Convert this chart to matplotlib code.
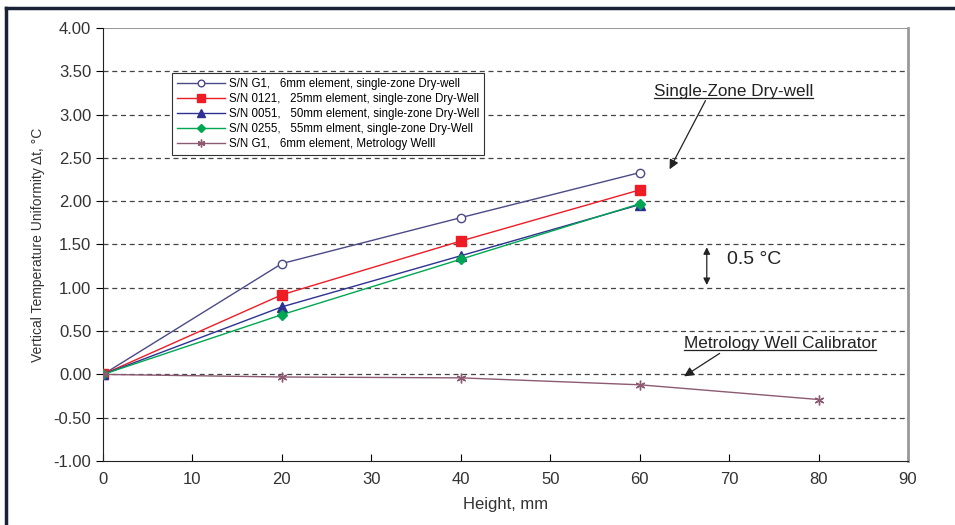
import matplotlib
matplotlib.use("Agg")
import matplotlib.pyplot as plt
from matplotlib.lines import Line2D

plt.rcParams['font.family'] = ['Liberation Sans', 'DejaVu Sans']

heights = [0, 20, 40, 60]
heights_mw = [0, 20, 40, 60, 80]
g1_dry = [0.0, 1.28, 1.81, 2.33]
sn0121 = [0.0, 0.92, 1.54, 2.13]
sn0051 = [0.0, 0.78, 1.37, 1.96]
sn0255 = [0.0, 0.69, 1.33, 1.97]
g1_metro = [0.0, -0.03, -0.04, -0.12, -0.29]

labels = [
    "S/N G1,   6mm element, single-zone Dry-well",
    "S/N 0121,   25mm element, single-zone Dry-Well",
    "S/N 0051,   50mm element, single-zone Dry-Well",
    "S/N 0255,   55mm elment, single-zone Dry-Well",
    "S/N G1,   6mm element, Metrology Welll",
]
yticks = [-1.0, -0.5, 0.0, 0.5, 1.0, 1.5, 2.0, 2.5, 3.0, 3.5, 4.0]
xticks = [0, 10, 20, 30, 40, 50, 60, 70, 80, 90]

fig = plt.figure(figsize=(9.55, 5.25), dpi=100)
ax = fig.add_axes([0.1079, 0.1219, 0.8429, 0.8248])

for y in yticks[1:-1]:
    ax.axhline(y, color='#444444', lw=0.9, ls=(0, (4, 3)), zorder=1)
ax.axhline(4.0, color='#999999', lw=1.5, zorder=1)

ax.plot(heights, g1_dry, color='#4a4a86', lw=1.0, marker='o', ms=6,
        mfc='white', mec='#4a4a86', mew=1.0, label=labels[0], zorder=3)
ax.plot(heights, sn0121, color='#ee1c25', lw=1.0, marker='s', ms=7,
        mfc='#ee1c25', mec='#ee1c25', label=labels[1], zorder=3)
ax.plot(heights, sn0051, color='#2e3192', lw=1.0, marker='^', ms=7,
        mfc='#2e3192', mec='#2e3192', label=labels[2], zorder=3)
ax.plot(heights, sn0255, color='#00a651', lw=1.0, marker='D', ms=5,
        mfc='#00a651', mec='#00a651', label=labels[3], zorder=3)
ax.plot(heights_mw, g1_metro, color='#8c5a72', lw=1.0, marker=(6, 2, 0), ms=7,
        mec='#8c5a72', mew=1.0, label=labels[4], zorder=3)

ax.set_xlim(0, 90)
ax.set_ylim(-1.0, 4.0)
ax.set_xticks(xticks)
ax.set_yticks(yticks)
ax.set_yticklabels([f"{v:.2f}" for v in yticks])
ax.tick_params(axis='x', direction='in', length=5, labelsize=12, pad=8)
ax.tick_params(axis='y', direction='out', length=5, labelsize=12)
for lab in ax.get_xticklabels() + ax.get_yticklabels():
    lab.set_color('#333333')

ax.spines['top'].set_visible(False)
ax.spines['right'].set_color('#999999')
ax.spines['right'].set_linewidth(2.0)
ax.spines['left'].set_color('#222222')
ax.spines['bottom'].set_color('#222222')

ax.set_xlabel("Height, mm", fontsize=12, color='#333333', labelpad=7)
ax.set_ylabel("Vertical Temperature Uniformity \u0394t, \u00b0C", fontsize=10, color='#333333', labelpad=6)

leg = ax.legend(loc='upper left', bbox_to_anchor=(0.0857, 0.896), borderaxespad=0,
                fontsize=8.3, frameon=True, fancybox=False, edgecolor='#333333', framealpha=1,
                handlelength=4.2, borderpad=0.4, labelspacing=0.27, handletextpad=0.3,
                markerscale=0.8)
leg.get_frame().set_linewidth(0.8)

# annotations
ax.annotate("", xy=(63.2, 2.34), xytext=(67.5, 3.19),
            arrowprops=dict(arrowstyle='-|>', color='#222222', lw=0.9, mutation_scale=14))
t1 = ax.text(70.5, 3.27, "Single-Zone Dry-well", fontsize=12.3, color='#222222',
             ha='center', va='center')
ax.annotate("", xy=(64.7, -0.04), xytext=(69.2, 0.26),
             arrowprops=dict(arrowstyle='-|>', color='#222222', lw=0.9, mutation_scale=14))
t2 = ax.text(75.7, 0.36, "Metrology Well Calibrator", fontsize=12.3, color='#222222',
             ha='center', va='center')
ax.annotate("", xy=(67.5, 1.0), xytext=(67.5, 1.5),
            arrowprops=dict(arrowstyle='<|-|>', color='#222222', lw=0.9, mutation_scale=10))
ax.text(69.8, 1.33, "0.5 \u00b0C", fontsize=14, color='#222222', ha='left', va='center')

# underline texts
fig.canvas.draw()
r = fig.canvas.get_renderer()
inv = fig.transFigure.inverted()
for t in (t1, t2):
    bb = t.get_window_extent(renderer=r)
    (x0, y0), (x1, _) = inv.transform([(bb.x0, bb.y0 + 1), (bb.x1, bb.y0 + 1)])
    fig.add_artist(Line2D([x0, x1], [y0, y0], color='#222222', lw=0.9, transform=fig.transFigure))

# outer frame lines
fig.add_artist(Line2D([0.0065, 1.0], [0.985, 0.985], color='#1a2238', lw=2.5, transform=fig.transFigure))
fig.add_artist(Line2D([0.0065, 0.0065], [0.0, 0.985], color='#1a2238', lw=2.5, transform=fig.transFigure))

fig.savefig("out.png", dpi=100)
